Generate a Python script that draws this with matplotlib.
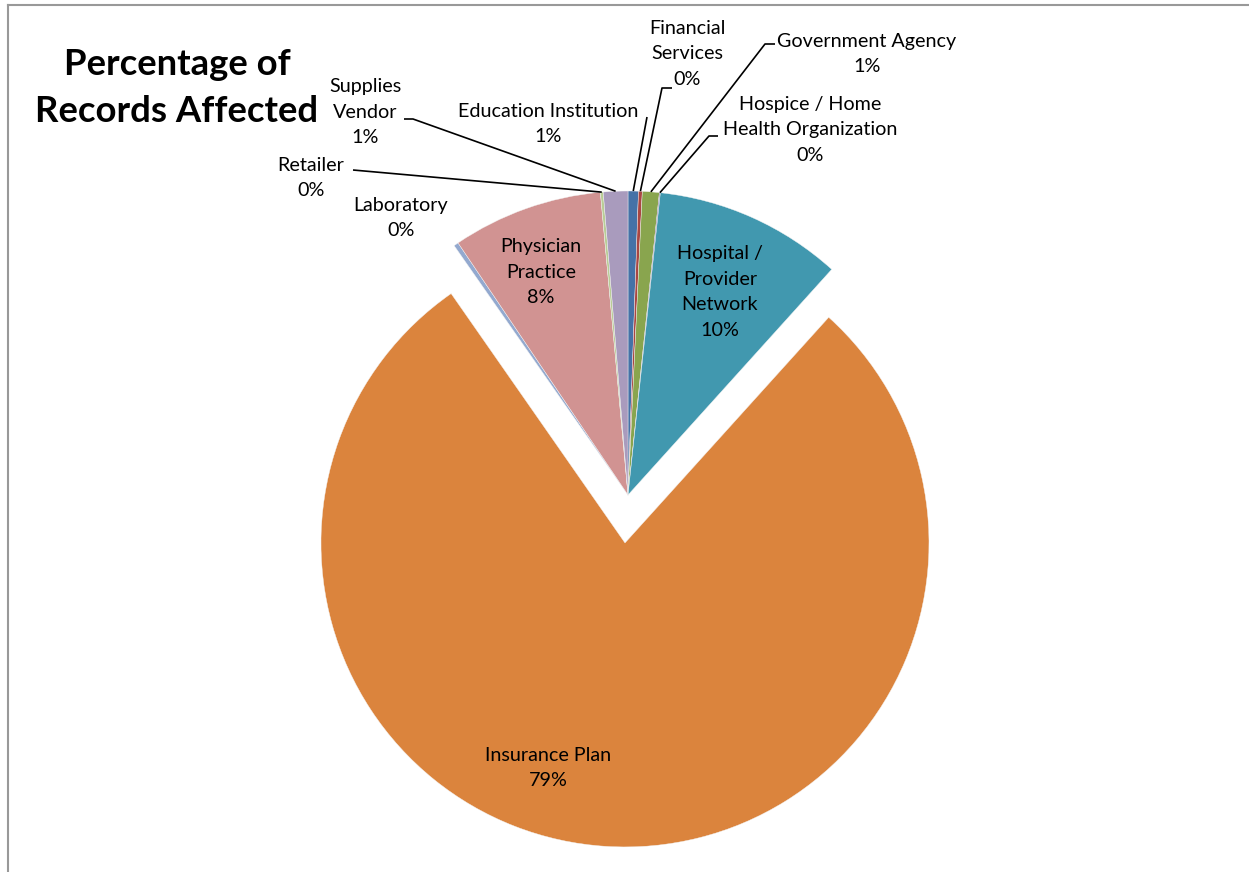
import matplotlib
matplotlib.use("Agg")
import matplotlib.pyplot as plt
import numpy as np

# ---------------- data ----------------
categories = ["Education Institution", "Financial Services", "Government Agency",
              "Hospice / Home Health Organization", "Hospital / Provider Network",
              "Insurance Plan", "Laboratory", "Physician Practice", "Retailer",
              "Supplies Vendor"]
label_text = ["Education Institution", "Financial\nServices", "Government Agency",
              "Hospice / Home\nHealth Organization", "Hospital /\nProvider\nNetwork",
              "Insurance Plan", "Laboratory", "Physician\nPractice", "Retailer",
              "Supplies\nVendor"]
values = [0.55, 0.2, 0.9, 0.05, 10.0, 78.7, 0.25, 8.0, 0.15, 1.3]
colors = ["#4572A7", "#AA4643", "#89A54E", "#71588F", "#4198AF",
          "#DB843D", "#93A9CF", "#D19392", "#B9CD96", "#A99BBD"]
title = "Percentage of\nRecords Affected"

# ---------------- layout (pixel coords, y down) ----------------
W, H = 1249, 872
FONT = "Lato"
center = (628, 495)
radius = 304
explode_frac = [0, 0, 0, 0, 0, 0.158, 0, 0, 0, 0]

# label centres and leader start points
label_pos = {
    0: (548, 124), 1: (687, 54), 2: (867, 54), 3: (810, 130),
    4: (720, 292), 5: (548, 768), 6: (401, 218), 7: (541, 272),
    8: (311, 178), 9: (365, 112),
}
leaders = {
    0: [(647, 117)],
    1: [(672, 88), (662, 88)],
    2: [(775, 44), (765, 44)],
    3: [(718, 136), (709, 136)],
    8: [(353, 170)],
    9: [(404, 119), (413, 119)],
}

def Y(y):
    return H - y

fig = plt.figure(figsize=(W / 100, H / 100), dpi=100)
ax = fig.add_axes([0, 0, 1, 1])

wedges, _ = ax.pie(values, colors=colors, startangle=90, counterclock=False,
                   center=(center[0], Y(center[1])), radius=radius,
                   explode=[e * radius for e in explode_frac], normalize=True,
                   wedgeprops=dict(edgecolor="#f4f4f4", linewidth=0.3))
ax.set_xlim(0, W)
ax.set_ylim(0, H)
ax.set_aspect("equal")
ax.axis("off")

total = sum(values)
for i, (txt, v) in enumerate(zip(label_text, values)):
    pct = f"{int(np.floor(v / total * 100 + 0.5))}%"
    x, y = label_pos[i]
    ax.text(x, Y(y), f"{txt}\n{pct}", ha="center", va="center",
            fontsize=14.2, family=FONT, color="black", linespacing=1.6)

for i, pts in leaders.items():
    w = wedges[i]
    mid = np.deg2rad((w.theta1 + w.theta2) / 2)
    cx, cy = w.center
    ex = cx + radius * np.cos(mid)
    ey = cy + radius * np.sin(mid)
    xs = [p[0] for p in pts] + [ex]
    ys = [Y(p[1]) for p in pts] + [ey]
    ax.plot(xs, ys, color="black", lw=1.2, solid_capstyle="butt")

ax.text(177, Y(88), title, ha="center", va="center", fontsize=26.3,
        fontweight="bold", family=FONT, linespacing=1.52)

# chart border (top and left visible)
ax.plot([8, W], [Y(5), Y(5)], color="#999999", lw=1.5)
ax.plot([8, 8], [Y(5), 0], color="#999999", lw=1.5)

fig.savefig("out.png", dpi=100)
